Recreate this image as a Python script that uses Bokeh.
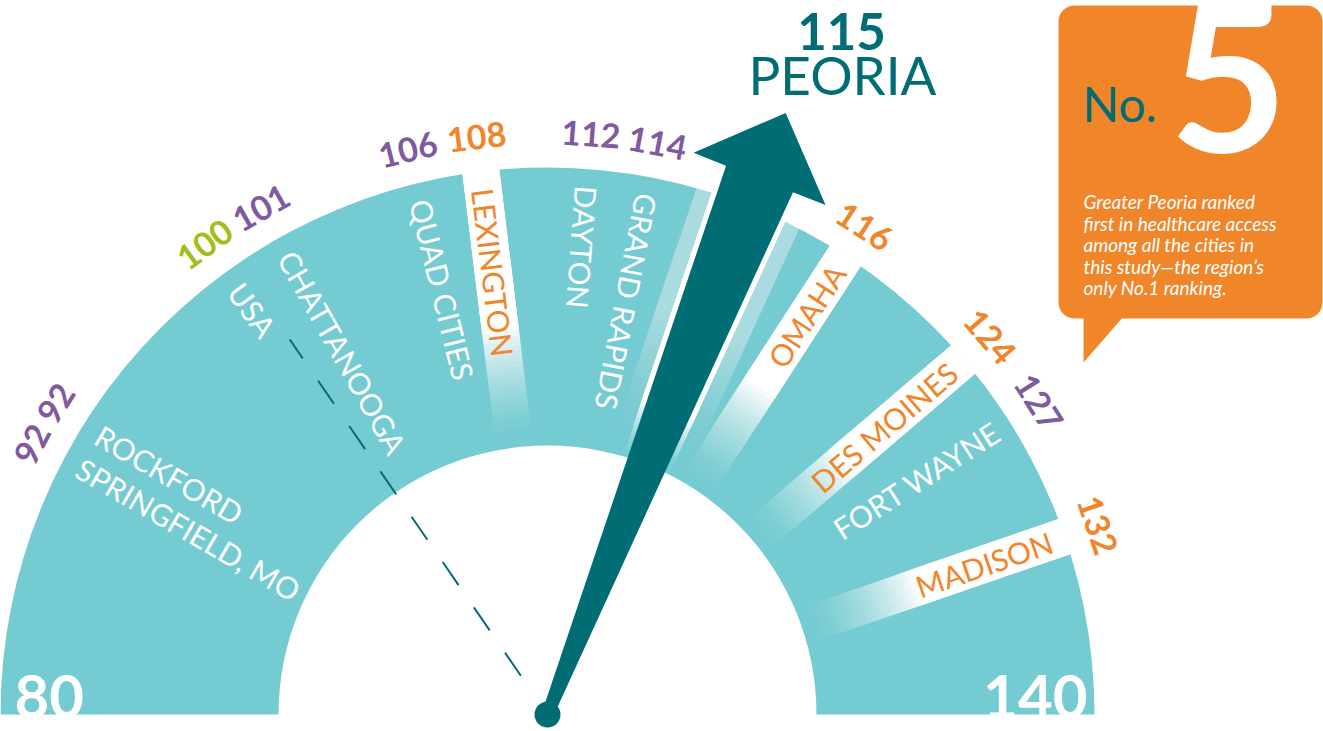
import numpy as np
from bokeh.plotting import figure
from bokeh.models import ColumnDataSource
from bokeh.core.properties import value
from bokeh.embed import file_html
from bokeh.resources import INLINE

# ---------------- data ----------------
cities = ["ROCKFORD", "SPRINGFIELD, MO", "USA", "CHATTANOOGA", "QUAD CITIES", "LEXINGTON",
          "DAYTON", "GRAND RAPIDS", "OMAHA", "DES MOINES", "FORT WAYNE", "MADISON"]
scores = [92, 92, 100, 101, 106, 108, 112, 114, 116, 124, 127, 132]
groups = ["peer", "peer", "national", "peer", "peer", "aspirational",
          "peer", "peer", "aspirational", "aspirational", "peer", "aspirational"]
highlight_name = "PEORIA"
highlight_score = 115
gauge_min = 80
gauge_max = 140
rank_prefix = "No."
rank_number = "5"
note_lines = ["Greater Peoria ranked",
              "first in healthcare access",
              "among all the cities in",
              "this study\u2014the region\u2019s",
              "only No.1 ranking."]

# ---------------- styles ----------------
TEAL = "#74CBD2"
DARK = "#006C74"
ORANGE = "#F0852A"
PURPLE = "#7F5A9E"
GREEN = "#A4BD1C"
group_color = {"peer": PURPLE, "aspirational": ORANGE, "national": GREEN}
FONT = value("Lato")

# gauge scale (hand-drawn, non-linear dial): value -> angle in degrees
scale_v = [gauge_min, 92, 100, 108, 114, highlight_score, 116, 124, 132, gauge_max]
scale_a = [180, 150, 124.5, 97, 79.5, 68.4, 57, 40.5, 19, 0]


def ang(v):
    return float(np.interp(v, scale_v, scale_a))


CX, CY = 547.0, -714.0       # pivot (data units = screen px, y negated)
R_OUT, R_IN = 547.0, 269.0

W, H = 1323, 731
p = figure(width=W, height=H, x_range=(0, W), y_range=(-H, 0),
           output_backend="svg", toolbar_location=None, min_border=0,
           x_axis_location=None, y_axis_location=None)
p.grid.visible = False
p.outline_line_color = None
p.background_fill_color = "white"
p.border_fill_color = "white"

# ---------------- dial band ----------------
p.annular_wedge(x=CX, y=CY, inner_radius=R_IN, outer_radius=R_OUT,
                start_angle=np.radians(ang(gauge_max)), end_angle=np.radians(ang(gauge_min)),
                fill_color=TEAL, line_color=None)


def polar(r, theta_deg, off=0.0):
    t = np.radians(theta_deg)
    return (CX + r * np.cos(t) - off * np.sin(t), CY + r * np.sin(t) + off * np.cos(t))


def stripe(theta_deg, hw0, hw_slope=0.0, r_solid=385.0, r_fade=282.0, top=1.0, n=22):
    """white band along a radius, opaque near the rim, fading towards the hub"""
    def hw(r):
        return hw0 + hw_slope * r
    radii = list(np.linspace(r_fade, r_solid, n + 1)[:-1]) + [r_solid]
    targets = [top * ((k + 1) / n) ** 1.3 for k in range(n)] + [top]
    xs, ys, al = [], [], []
    prev = 0.0
    for r0, A in zip(radii, targets):
        a = 1.0 - (1.0 - A) / (1.0 - prev) if prev < 1 else 0.0
        prev = A
        rr = np.linspace(r0, R_OUT, 6)
        left = [polar(r, theta_deg, -hw(r)) for r in rr]
        right = [polar(r, theta_deg, hw(r)) for r in rr[::-1]]
        pts = left + right
        xs.append([q[0] for q in pts])
        ys.append([q[1] for q in pts])
        al.append(min(max(a, 0.0), 1.0))
    return xs, ys, al


SHAFT_HW0, SHAFT_SLOPE = 6.0, 30.0 / 576.0
sx, sy, sa = [], [], []
for v, g in zip(scores, groups):
    if g == "aspirational":
        a, b, c2 = stripe(ang(v), 18.5, r_solid=395)
        sx += a; sy += b; sa += c2
th = ang(highlight_score)
for hw_add, rs, rf, top in [(21, 420, 290, 0.45), (5, 330, 270, 1.0)]:
    a, b, c2 = stripe(th, SHAFT_HW0 + hw_add, SHAFT_SLOPE, r_solid=rs, r_fade=rf, top=top)
    sx += a; sy += b; sa += c2
p.patches(xs="xs", ys="ys", fill_alpha="al", fill_color="white", line_color=None,
          source=ColumnDataSource(dict(xs=sx, ys=sy, al=sa)))

# national benchmark dashed line
for v, g in zip(scores, groups):
    if g == "national":
        x0, y0 = polar(47, ang(v))
        x1, y1 = polar(455, ang(v))
        p.line([x0, x1], [y0, y1], line_color=DARK, line_width=2, line_dash="28 27")

# ---------------- label angles (spread to avoid overlap) ----------------
R_LAB = 582.0
VFS = 34
widths = np.array([len(str(v)) * 0.58 * VFS for v in scores])
pos = np.array([-np.radians(ang(v)) * R_LAB for v in scores])
for _ in range(300):
    for i in range(len(pos) - 1):
        need = (widths[i] + widths[i + 1]) / 2 + 8
        d = pos[i + 1] - pos[i]
        if d < need:
            sh = (need - d) / 2
            pos[i] -= sh
            pos[i + 1] += sh
lab_ang = np.degrees(-pos / R_LAB)

# value labels
vx, vy, vt, vc, va = [], [], [], [], []
for v, g, t in zip(scores, groups, lab_ang):
    x, y = polar(R_LAB, t)
    vx.append(x); vy.append(y); vt.append(str(v)); vc.append(group_color[g]); va.append(t - 90)
p.text(x="x", y="y", text="t", angle="a", angle_units="deg", text_color="c",
       text_font=FONT, text_font_style="bold", text_font_size=f"{VFS}px",
       text_align="center", text_baseline="middle",
       source=ColumnDataSource(dict(x=vx, y=vy, t=vt, c=vc, a=va)))

# city name labels (radial); cities sharing a score share one block
blocks = {}
for c, v, g, t in zip(cities, scores, groups, lab_ang):
    blocks.setdefault(v, []).append((c, g, t))
inx, iny, intx, inc, ina = [], [], [], [], []
oux, ouy, outx, ouc, oua = [], [], [], [], []
for v, items in blocks.items():
    t = float(np.mean([it[2] for it in items]))
    txt = "\n".join(it[0] for it in items)
    col = ORANGE if items[0][1] == "aspirational" else "white"
    if v < highlight_score:
        x, y = polar(530, t)
        inx.append(x); iny.append(y); intx.append(txt); inc.append(col); ina.append(t - 180)
    else:
        x, y = polar(533, t)
        oux.append(x); ouy.append(y); outx.append(txt); ouc.append(col); oua.append(t)
p.text(x="x", y="y", text="t", angle="a", angle_units="deg", text_color="c",
       text_font=FONT, text_font_size="30px", text_align="left", text_baseline="middle",
       text_line_height=1.05,
       source=ColumnDataSource(dict(x=inx, y=iny, t=intx, c=inc, a=ina)))
p.text(x="x", y="y", text="t", angle="a", angle_units="deg", text_color="c",
       text_font=FONT, text_font_size="30px", text_align="right", text_baseline="middle",
       source=ColumnDataSource(dict(x=oux, y=ouy, t=outx, c=ouc, a=oua)))

# ---------------- needle ----------------
shape = [(0, -SHAFT_HW0), (576, -36), (576, -71), (647, 0), (576, 71), (576, 36), (0, SHAFT_HW0)]
pts = [polar(r, th, o) for r, o in shape]
p.patch([q[0] for q in pts], [q[1] for q in pts], fill_color=DARK, line_color=None)
p.circle(x=[CX], y=[CY], radius=13, fill_color=DARK, line_color=None)

p.text(x=[841], y=[-31], text=[str(highlight_score)], text_font=FONT, text_font_style="bold",
       text_font_size="51px", text_color=DARK, text_align="center", text_baseline="middle")
p.text(x=[842], y=[-74], text=[highlight_name], text_font=FONT,
       text_font_size="53px", text_color=DARK, text_align="center", text_baseline="middle")

# end labels
p.text(x=[14], y=[-696], text=[str(gauge_min)], text_font=FONT, text_font_style="bold",
       text_font_size="60px", text_color="white", text_align="left", text_baseline="middle")
p.text(x=[1087], y=[-696], text=[str(gauge_max)], text_font=FONT, text_font_style="bold",
       text_font_size="60px", text_color="white", text_align="right", text_baseline="middle")

# ---------------- callout box ----------------
def rounded(x0, y0, x1, y1, r, n=10):
    xs, ys = [], []
    corners = [(x1 - r, y0 + r, -90, 0), (x1 - r, y1 - r, 0, 90),
               (x0 + r, y1 - r, 90, 180), (x0 + r, y0 + r, 180, 270)]
    for cx, cy, a0, a1 in corners:
        for t in np.radians(np.linspace(a0, a1, n)):
            xs.append(cx + r * np.cos(t)); ys.append(cy + r * np.sin(t))
    return xs, [-y for y in ys]


bx, by = rounded(1058, 5, 1322, 318, 16)
p.patch(bx, by, fill_color=ORANGE, line_color=None)
p.patch([1083, 1123, 1083], [-316, -316, -362], fill_color=ORANGE, line_color=None)
p.text(x=[1228], y=[-77], text=[rank_number], text_font=FONT, text_font_style="bold",
       text_font_size="205px", text_color="white", text_align="center", text_baseline="middle")
p.text(x=[1082], y=[-103], text=[rank_prefix], text_font=FONT, text_font_size="48px",
       text_color=DARK, text_align="left", text_baseline="middle")
p.text(x=[1083] * len(note_lines), y=[-(201 + 21.6 * i) for i in range(len(note_lines))],
       text=note_lines, text_font=FONT, text_font_style="italic", text_font_size="19px",
       text_color="white", text_align="left", text_baseline="middle")

open("out.html", "w").write(file_html(p, INLINE))
